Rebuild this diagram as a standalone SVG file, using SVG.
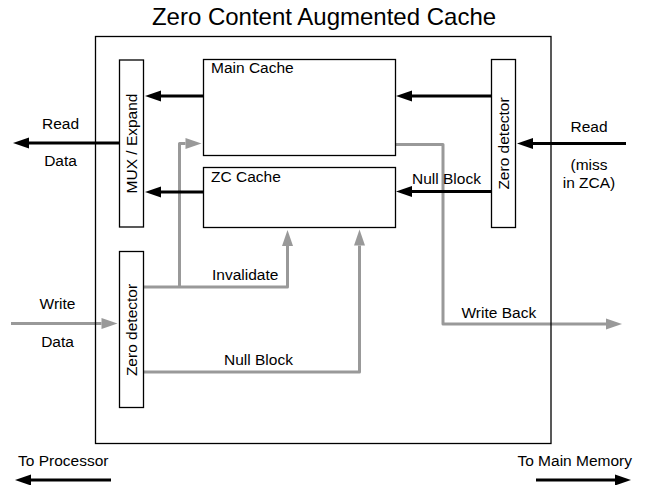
<svg xmlns="http://www.w3.org/2000/svg" width="648" height="485" viewBox="0 0 648 485">
<defs>
<style>
text{font-family:"Liberation Sans",Arial,Helvetica,sans-serif;font-size:15.5px;fill:#000}
.title{font-size:24px}
.box{fill:#fff;stroke:#000;stroke-width:1.3}
.frame{fill:none;stroke:#000;stroke-width:1.3}
.blk{fill:none;stroke:#000;stroke-width:3}
.gry{fill:none;stroke:#999;stroke-width:3;stroke-linejoin:round}
.mid{text-anchor:middle}
</style>
<marker id="ab" markerUnits="userSpaceOnUse" markerWidth="17" markerHeight="12" refX="0" refY="5.5" orient="auto" overflow="visible">
<path d="M0,0 L16,5.5 L0,11 z" fill="#000"/>
</marker>
<marker id="ag" markerUnits="userSpaceOnUse" markerWidth="17" markerHeight="12" refX="0" refY="5.5" orient="auto" overflow="visible">
<path d="M0,0 L16,5.5 L0,11 z" fill="#999"/>
</marker>
</defs>
<rect width="648" height="485" fill="#fff"/>
<text class="title mid" x="324" y="25">Zero Content Augmented Cache</text>

<g id="connectors">
<path class="gry" d="M11,323.5 H101.5" marker-end="url(#ag)"/>
<path class="gry" d="M143.5,287 H287.5 V246" marker-end="url(#ag)"/>
<path class="gry" d="M179.5,287 V143.5 H185.5" marker-end="url(#ag)"/>
<path class="gry" d="M143.5,372 H359.5 V245.5" marker-end="url(#ag)"/>
<path class="gry" d="M396,144.5 H443 V324 H606" marker-end="url(#ag)"/>
<path class="blk" d="M203,96 H161" marker-end="url(#ab)"/>
<path class="blk" d="M203,192 H161" marker-end="url(#ab)"/>
<path class="blk" d="M491,96 H412" marker-end="url(#ab)"/>
<path class="blk" d="M491,191.5 H412" marker-end="url(#ab)"/>
<path class="blk" d="M626,143.5 H533" marker-end="url(#ab)"/>
<path class="blk" d="M119,143 H29" marker-end="url(#ab)"/>
<path class="blk" d="M111,480 H31" marker-end="url(#ab)"/>
<path class="blk" d="M536,480 H615" marker-end="url(#ab)"/>
</g>

<g id="zca">
<rect class="frame" x="95.5" y="36.5" width="455.5" height="407"/>
</g>

<g id="mux">
<rect class="box" x="119.5" y="60" width="24" height="167"/>
<text class="mid" transform="translate(137,143.5) rotate(-90)">MUX / Expand</text>
</g>

<g id="main-cache">
<rect class="box" x="203.5" y="59.5" width="192" height="96"/>
<text x="211" y="72.5">Main Cache</text>
</g>

<g id="zc-cache">
<rect class="box" x="203.5" y="167.5" width="192" height="60"/>
<text x="211" y="182">ZC Cache</text>
</g>

<g id="zd-read">
<rect class="box" x="491.5" y="59.5" width="24" height="168"/>
<text class="mid" transform="translate(509,143.5) rotate(-90)">Zero detector</text>
</g>

<g id="zd-write">
<rect class="box" x="119.5" y="251.5" width="24" height="156"/>
<text class="mid" transform="translate(137,330) rotate(-90)">Zero detector</text>
</g>

<g id="labels">
<text class="mid" x="60.5" y="129">Read</text>
<text class="mid" x="60.5" y="166">Data</text>
<text class="mid" x="589" y="131.5">Read</text>
<text class="mid" x="589" y="170">(miss</text>
<text class="mid" x="589" y="188">in ZCA)</text>
<text x="412" y="183.5">Null Block</text>
<text class="mid" x="57.5" y="309">Write</text>
<text class="mid" x="57.5" y="346.5">Data</text>
<text x="212" y="280">Invalidate</text>
<text x="224" y="364.5">Null Block</text>
<text x="461.5" y="317.5">Write Back</text>
<text x="18" y="466">To Processor</text>
<text x="632" y="466" text-anchor="end">To Main Memory</text>
</g>
</svg>
